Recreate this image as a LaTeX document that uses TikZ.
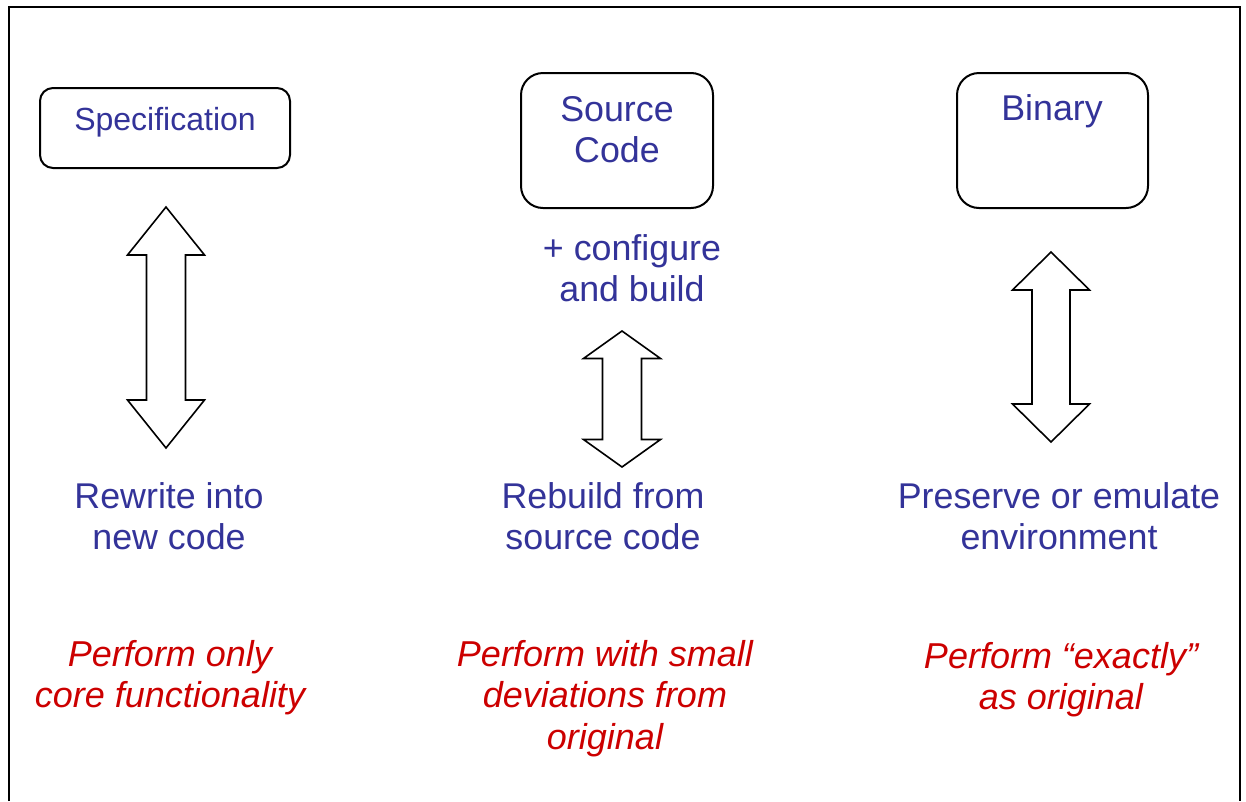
\documentclass[tikz,border=0pt]{standalone}
\usepackage{fontspec}
\setmainfont{Liberation Sans}
\definecolor{labelblue}{RGB}{51,51,153}
\definecolor{noteRed}{RGB}{204,0,0}
\tikzset{
  box/.style={draw=black, line width=2pt, fill=white, inner sep=0pt},
  bluetext/.style={text=labelblue, align=center, inner sep=0pt, anchor=north,
    font={\fontsize{35.8}{41.5}\selectfont}},
  redtext/.style={text=noteRed, align=center, inner sep=0pt, anchor=north,
    font={\fontsize{36}{41.5}\selectfont\itshape}},
  twoway/.style={draw=black, line width=1.6pt, fill=white, line join=miter},
}
% hollow double-headed vertical arrow: centre x, top y, bottom y,
% half head width, half shaft width, head length
\newcommand{\hollowupdown}[6]{%
  \draw[twoway] (#1,#2) -- (#1+#4,#2+#6) -- (#1+#5,#2+#6) -- (#1+#5,#3-#6)
    -- (#1+#4,#3-#6) -- (#1,#3) -- (#1-#4,#3-#6) -- (#1-#5,#3-#6)
    -- (#1-#5,#2+#6) -- (#1-#4,#2+#6) -- cycle;}
\begin{document}
\begin{tikzpicture}[x=1pt, y=-1pt]
  \useasboundingbox (0,0) rectangle (1246,801);
  % outer frame (runs off the bottom edge)
  \draw[line width=2pt] (9,801) -- (9,7) -- (1240,7) -- (1240,801);

  % the three starting points
  \node[box, rounded corners=13pt, minimum width=250pt, minimum height=80pt]
    (spec) at (165,128) {};
  \node[box, rounded corners=22pt, minimum width=192pt, minimum height=135pt]
    (src) at (617,140.5) {};
  \node[box, rounded corners=22pt, minimum width=191pt, minimum height=135pt]
    (bin) at (1052.5,140.5) {};
  \node[bluetext, font={\fontsize{32}{37}\selectfont}] (specLabel) at (165,107.5) {Specification};
  \node[bluetext] (srcLabel) at (617,96) {Source\\Code};
  \node[bluetext] (binLabel) at (1052,94) {Binary};
  \node[bluetext] (build) at (632,234) {+ configure\\and build};

  % double arrows
  \hollowupdown{166}{207}{448}{38.5}{19.5}{48}
  \hollowupdown{622}{331}{467}{38.5}{19.5}{27.5}
  \hollowupdown{1051}{252}{442}{38.5}{19}{38}

  % strategies
  \node[bluetext] (rewrite) at (169,482) {Rewrite into\\new code};
  \node[bluetext] (rebuild) at (603,482) {Rebuild from\\source code};
  \node[bluetext] (preserve) at (1059,482) {Preserve or emulate\\environment};

  % expected outcomes
  \node[redtext] (outA) at (170,640) {Perform only\\core functionality};
  \node[redtext] (outB) at (605,640) {Perform with small\\deviations from\\original};
  \node[redtext] (outC) at (1061,642) {Perform “exactly”\\as original};
\end{tikzpicture}
\end{document}
